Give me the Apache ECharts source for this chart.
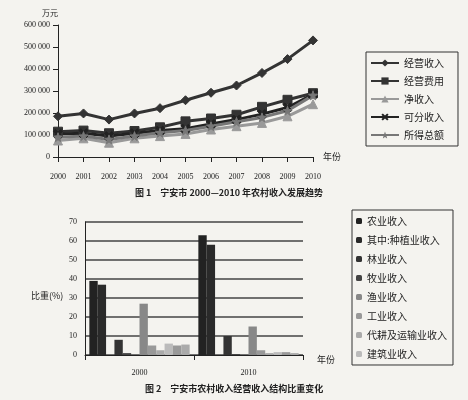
<!DOCTYPE html><html><head><meta charset="utf-8"><script src="https://cdn.jsdelivr.net/npm/echarts@6/dist/echarts.min.js"></script></head><body style="margin:0;background:#f4f3ef"><div id="c" style="width:468px;height:400px"></div><script>
const years=['2000','2001','2002','2003','2004','2005','2006','2007','2008','2009','2010'];
const jyIncome=[185000,198000,170000,198000,222000,258000,292000,325000,382000,445000,530000];
const jyCost=[115000,120000,108000,118000,135000,162000,175000,192000,228000,260000,290000];
const netIncome=[75000,85000,65000,85000,95000,105000,125000,140000,155000,185000,240000];
const divIncome=[105000,108000,95000,108000,120000,128000,150000,170000,195000,225000,285000];
const totalGain=[90000,95000,80000,95000,110000,120000,140000,160000,180000,210000,280000];
const groups=['2000','2010'];
const barNames=['农业收入','其中:种植业收入','_a','林业收入','牧业收入','_b','渔业收入','工业收入','代耕及运输业收入','建筑业收入','_c','_d'];
const bar2000=[39,37,0,8,1,0,27,5,2.5,6,5,5.5];
const bar2010=[63,58,0,10,0.5,0,15,2.5,1,1.5,1.5,1];
const barColors=['#222','#2a2a2a','#333','#333','#444','#555','#888','#999','#aaa','#bbb','#999','#aaa'];
const legendBars=['农业收入','其中:种植业收入','林业收入','牧业收入','渔业收入','工业收入','代耕及运输业收入','建筑业收入'];
const f='"Noto Sans CJK SC"';
const X='path://M0,2L2,0L5,3L8,0L10,2L7,5L10,8L8,10L5,7L2,10L0,8L3,5Z';
const STAR='path://M5,0L6.2,3.5L10,3.8L7,6.1L8,10L5,7.8L2,10L3,6.1L0,3.8L3.8,3.5Z';
const lines=[['经营收入',jyIncome,'diamond','#333'],['经营费用',jyCost,'rect','#333'],['净收入',netIncome,'triangle','#999'],['可分收入',divIncome,X,'#222'],['所得总额',totalGain,STAR,'#777']];
const series=lines.map(l=>({name:l[0],type:'line',data:l[1],symbol:l[2],symbolSize:9,xAxisIndex:0,yAxisIndex:0,lineStyle:{color:l[3],width:3},itemStyle:{color:l[3],borderColor:l[3]}}));
barNames.forEach((n,i)=>series.push({name:n,type:'bar',xAxisIndex:1,yAxisIndex:1,data:[bar2000[i],bar2010[i]],barGap:'0%',barCategoryGap:'8%',itemStyle:{color:barColors[i]}}));
const ch=echarts.init(document.getElementById('c'));
ch.setOption({animation:false,textStyle:{fontFamily:f},
title:[{text:'图 1　宁安市 2000—2010 年农村收入发展趋势',left:130,top:183,textStyle:{fontSize:9,fontWeight:'bold',color:'#222'}},
{text:'图 2　宁安市农村收入经营收入结构比重变化',left:140,top:379,textStyle:{fontSize:9,fontWeight:'bold',color:'#222'}},
{text:'比重(%)',left:26,top:286,textStyle:{fontSize:9,fontWeight:'normal',color:'#222'}}],
legend:[{data:lines.map(l=>l[0]),orient:'vertical',left:366,top:52,itemGap:8,itemWidth:28,itemHeight:9,borderColor:'#333',borderWidth:1,padding:[6,14,6,4],textStyle:{fontSize:10,color:'#222'}},
{data:legendBars,orient:'vertical',left:352,top:210,itemGap:9,itemWidth:6,itemHeight:6,borderColor:'#333',borderWidth:1,padding:[6,6,6,4],textStyle:{fontSize:10,color:'#222'}}],
grid:[{left:58,top:25,width:255,height:132},{left:85,top:222,width:218,height:133}],
xAxis:[{type:'category',data:years,gridIndex:0,boundaryGap:false,name:'年份',nameGap:10,nameTextStyle:{fontSize:9,color:'#222',verticalAlign:'middle'},axisLine:{lineStyle:{color:'#222'}},axisTick:{show:true,inside:false},axisLabel:{fontSize:8,color:'#222',margin:16,fontFamily:'Liberation Serif'}},
{type:'category',data:groups,gridIndex:1,name:'年份',nameGap:14,nameTextStyle:{fontSize:9,color:'#222',verticalAlign:'top'},axisLine:{lineStyle:{color:'#222'}},axisTick:{show:true},axisLabel:{fontSize:8,color:'#222',margin:14,fontFamily:'Liberation Serif'}}],
yAxis:[{type:'value',gridIndex:0,min:0,max:600000,interval:100000,name:'万元',nameGap:8,nameTextStyle:{fontSize:8,color:'#222',align:'right'},splitLine:{show:false},axisLine:{show:true,lineStyle:{color:'#222'}},axisTick:{show:true},axisLabel:{fontSize:8,color:'#222',fontFamily:'Liberation Serif',formatter:v=>v===0?'0':(v/1000)+' 000'}},
{type:'value',gridIndex:1,min:0,max:70,interval:10,splitLine:{lineStyle:{color:'#444',width:1.5}},axisLine:{show:true,lineStyle:{color:'#222'}},axisLabel:{fontSize:8,color:'#222',fontFamily:'Liberation Serif'}}],
series});
</script></body></html>
